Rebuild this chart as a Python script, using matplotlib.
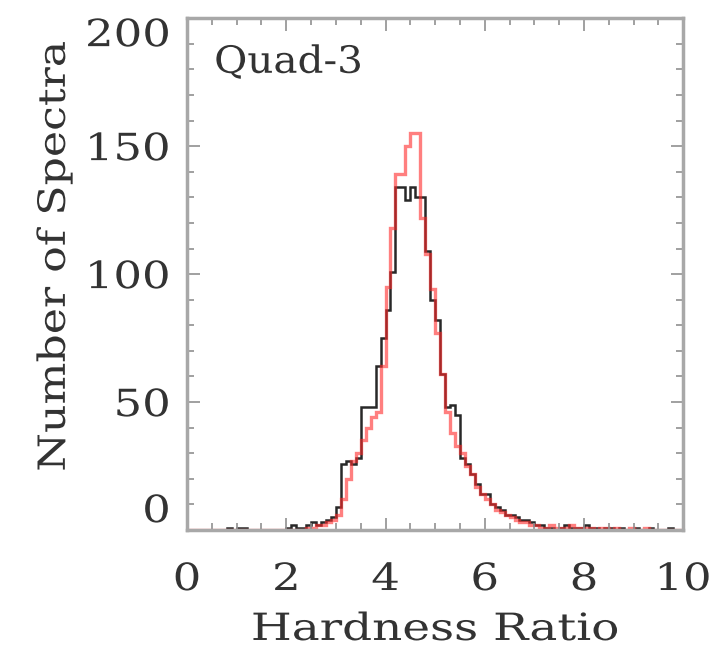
import numpy as np
import matplotlib.pyplot as plt
from matplotlib.ticker import MultipleLocator
from matplotlib.patheffects import AbstractPathEffect
from matplotlib.transforms import Affine2D

# --- Histogram data (bin width 0.1, hardness ratio 0..10) ---
bin_lo, bin_hi = 0.0, 10.0

counts_black = [
    0, 0, 0, 0, 0, 0, 0, 0, 1, 0,          # 0.0 - 0.9
    1, 1, 0, 0, 0, 0, 0, 0, 0, 0,          # 1.0 - 1.9
    1, 2, 1, 1, 2, 3, 2, 3, 4, 5,          # 2.0 - 2.9
    9, 26, 27, 26, 28, 48, 48, 48, 64, 75,  # 3.0 - 3.9
    86, 101, 134, 134, 129, 134, 130, 130, 109, 90,  # 4.0 - 4.9
    82, 61, 48, 49, 45, 28, 26, 22, 18, 14,  # 5.0 - 5.9
    14, 10, 9, 8, 6, 6, 5, 4, 4, 3,        # 6.0 - 6.9
    2, 2, 1, 1, 0, 1, 2, 1, 1, 1,          # 7.0 - 7.9
    2, 1, 1, 0, 1, 1, 0, 1, 0, 0,          # 8.0 - 8.9
    1, 0, 0, 1, 0, 0, 0, 1, 0, 0,          # 9.0 - 9.9
]

counts_red = [
    0, 0, 0, 0, 0, 0, 0, 0, 0, 0,
    0, 0, 0, 0, 0, 0, 0, 0, 0, 0,
    0, 0, 0, 0, 1, 1, 2, 2, 3, 4,
    6, 12, 20, 27, 30, 35, 40, 44, 46, 64,
    95, 118, 139, 139, 150, 155, 155, 122, 108, 94,
    77, 61, 46, 38, 33, 30, 25, 22, 17, 14,
    12, 10, 8, 7, 6, 5, 4, 3, 3, 2,
    2, 1, 1, 2, 1, 1, 1, 2, 1, 1,
    1, 1, 0, 1, 1, 0, 1, 0, 0, 1,
    0, 0, 1, 0, 0, 0, 0, 0, 0, 0,
]

x_ticks = [0, 2, 4, 6, 8, 10]
y_ticks = [0, 50, 100, 150, 200]
panel_label = "Quad-3"


class Stretch(AbstractPathEffect):
    """Widen text horizontally (the IDL font is much wider than DejaVu)."""
    def __init__(self, sx, anchor='center'):
        super().__init__()
        self.sx = sx
        self.anchor = anchor

    def draw_path(self, renderer, gc, tpath, affine, rgbFace=None):
        ext = tpath.get_extents()
        x0 = {'left': ext.x0, 'right': ext.x1}.get(self.anchor, 0.5 * (ext.x0 + ext.x1))
        tr = Affine2D().translate(-x0, 0).scale(self.sx, 1).translate(x0, 0) + affine
        renderer.draw_path(gc, tpath, tr, rgbFace)


edges = np.linspace(bin_lo, bin_hi, len(counts_black) + 1)

plt.rcParams['font.family'] = ['DejaVu Serif']
fs = 27
txt_col = '#333333'
sx = 1.2

fig = plt.figure(figsize=(7.11, 6.48), dpi=100)
ax = fig.add_axes([0.263, 0.182, 0.698, 0.790])

ax.stairs(counts_black, edges, color='#282828', lw=1.8)
ax.stairs(counts_red, edges, color='#ff2a2a', lw=2.4, alpha=0.6)

ax.set_xlim(0, 10)
ax.set_ylim(0, 200)
ax.set_xticks(x_ticks)
ax.set_yticks(y_ticks)
ax.xaxis.set_minor_locator(MultipleLocator(0.5))
ax.yaxis.set_minor_locator(MultipleLocator(10))

for s in ax.spines.values():
    s.set_color('#a8a8a8')
    s.set_linewidth(2.5)

ax.tick_params(which='both', direction='in', top=True, right=True,
               color='#909090', width=1.2)
ax.tick_params(which='major', length=9, labelsize=fs, labelcolor=txt_col)
ax.tick_params(which='minor', length=5)
ax.tick_params(axis='x', which='major', pad=23)
ax.tick_params(axis='y', which='major', pad=12)

for lab in ax.get_xticklabels():
    lab.set_path_effects([Stretch(sx, 'center')])
ylabs = ax.get_yticklabels()
for lab in ylabs:
    lab.set_path_effects([Stretch(sx, 'right')])
# end labels on the y axis sit inside the frame, as in the original
ylabs[0].set_verticalalignment('bottom')
ylabs[-1].set_verticalalignment('top')

ax.set_xlabel("Hardness Ratio", fontsize=fs, color=txt_col,
              path_effects=[Stretch(1.25, 'center')])
ax.set_ylabel("Number of Spectra", fontsize=fs, color=txt_col,
              path_effects=[Stretch(1.18, 'center')])
ax.xaxis.set_label_coords(0.5, -0.16)
ax.yaxis.set_label_coords(-0.23, 0.535)

ax.text(0.055, 0.948, panel_label, transform=ax.transAxes, fontsize=fs,
        color=txt_col, va='top', ha='left', path_effects=[Stretch(1.08, 'left')])

fig.savefig('out.png', dpi=100)
